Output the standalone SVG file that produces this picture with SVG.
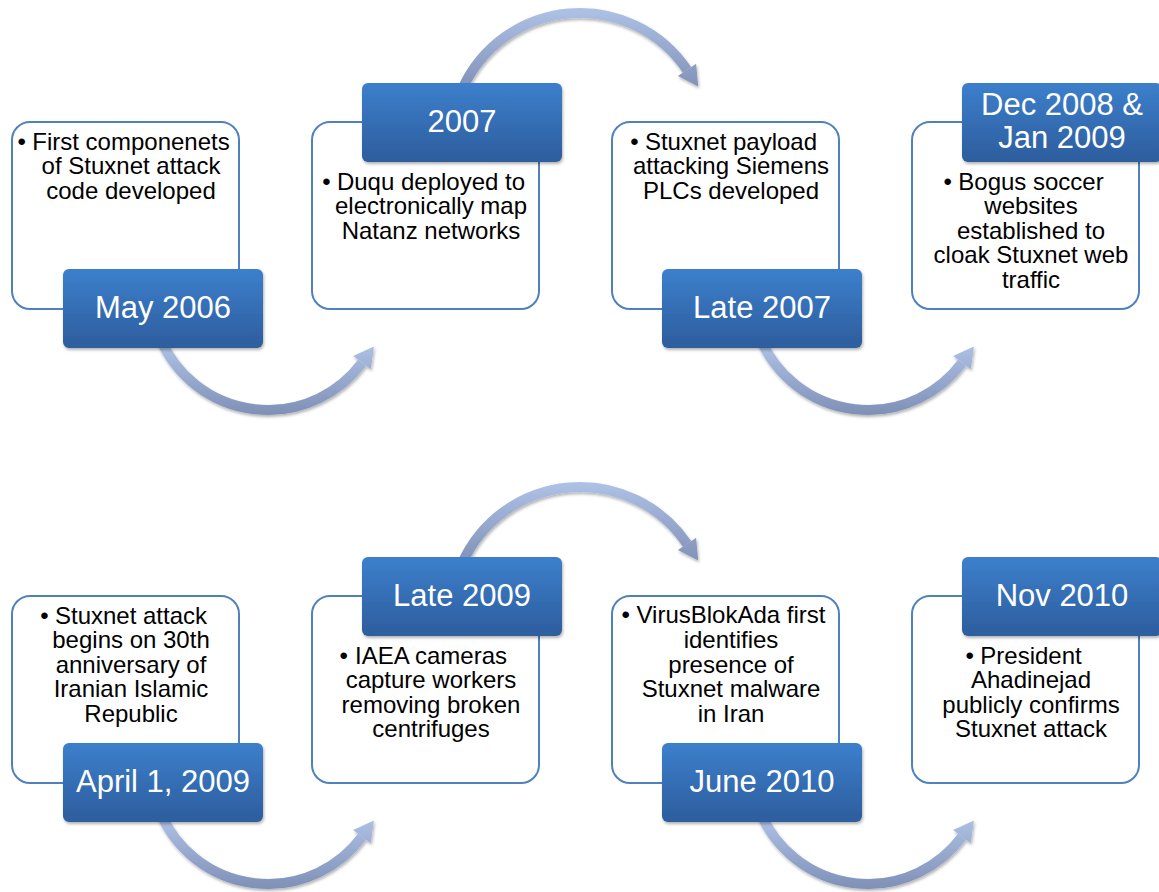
<svg xmlns="http://www.w3.org/2000/svg" xmlns:xlink="http://www.w3.org/1999/xlink" width="1159" height="892" viewBox="0 0 1159 892">
<style>
.box{fill:#ffffff;stroke:#4F81BD;stroke-width:2}
.lab{fill:url(#labG);filter:url(#sh)}
.body{font-family:"Liberation Sans",Arial,sans-serif;font-size:24px;fill:#000;text-anchor:middle}
.lt{font-family:"Liberation Sans",Arial,sans-serif;font-size:31px;fill:#fff;text-anchor:middle}
</style>
<defs>
<linearGradient id="labG" x1="0" y1="0" x2="0" y2="1">
<stop offset="0" stop-color="#3C7FCC"/>
<stop offset="1" stop-color="#2D5D9D"/>
</linearGradient>
<linearGradient id="botG" gradientUnits="userSpaceOnUse" x1="0" y1="340" x2="0" y2="415">
<stop offset="0" stop-color="#B0C4E8"/>
<stop offset="1" stop-color="#7F90B6"/>
</linearGradient>
<linearGradient id="topG" gradientUnits="userSpaceOnUse" x1="0" y1="8" x2="0" y2="90">
<stop offset="0" stop-color="#AEC2E6"/>
<stop offset="1" stop-color="#8090B6"/>
</linearGradient>
<filter id="sh" x="-10%" y="-10%" width="130%" height="140%">
<feDropShadow dx="1" dy="2" stdDeviation="1.6" flood-color="#000" flood-opacity="0.3"/>
</filter>
<g id="arrB" filter="url(#sh)">
<path d="M160.9,340 A117,117 0 0 0 362,362.7" fill="none" stroke="url(#botG)" stroke-width="10"/>
<polygon points="373.9,346.6 370.8,369.3 353.2,356.1" fill="url(#botG)"/>
</g>
<g id="arrT" filter="url(#sh)">
<path d="M461.9,90 A129,129 0 0 1 687,69.9" fill="none" stroke="url(#topG)" stroke-width="10"/>
<polygon points="698.2,86.5 696.1,63.7 677.9,76" fill="url(#topG)"/>
</g>
</defs>
<rect width="1159" height="892" fill="#ffffff"/>
<g id="connectors">
<use href="#arrB"/>
<use href="#arrB" transform="translate(600,0)"/>
<use href="#arrB" transform="translate(0,474)"/>
<use href="#arrB" transform="translate(600,474)"/>
<use href="#arrT"/>
<use href="#arrT" transform="translate(0,474)"/>
</g>
<g id="node1">
<rect class="box" x="12" y="122" width="227" height="187" rx="18"/>
<text class="body" x="21.8" y="149.5">•</text>
<text class="body" y="149.5"><tspan x="131">First componenets</tspan><tspan x="131" dy="24.5">of Stuxnet attack</tspan><tspan x="131" dy="24.5">code developed</tspan></text>
<rect class="lab" x="63" y="269" width="200" height="79" rx="6"/>
<text class="lt" x="163" y="318">May 2006</text>
</g>
<g id="node2">
<rect class="box" x="312" y="122" width="227" height="187" rx="18"/>
<text class="body" x="326.4" y="189.5">•</text>
<text class="body" y="189.5"><tspan x="431">Duqu deployed to</tspan><tspan x="431" dy="24.5">electronically map</tspan><tspan x="431" dy="24.5">Natanz networks</tspan></text>
<rect class="lab" x="362" y="83" width="200" height="79" rx="6"/>
<text class="lt" x="462" y="132">2007</text>
</g>
<g id="node3">
<rect class="box" x="612" y="122" width="227" height="187" rx="18"/>
<text class="body" x="634.5" y="149.5">•</text>
<text class="body" y="149.5"><tspan x="731">Stuxnet payload</tspan><tspan x="731" dy="24.5">attacking Siemens</tspan><tspan x="731" dy="24.5">PLCs developed</tspan></text>
<rect class="lab" x="662" y="269" width="200" height="79" rx="6"/>
<text class="lt" x="762" y="318">Late 2007</text>
</g>
<g id="node4">
<rect class="box" x="912" y="122" width="227" height="187" rx="18"/>
<text class="body" x="947.8" y="189.5">•</text>
<text class="body" y="189.5"><tspan x="1031">Bogus soccer</tspan><tspan x="1031" dy="24.5">websites</tspan><tspan x="1031" dy="24.5">established to</tspan><tspan x="1031" dy="24.5">cloak Stuxnet web</tspan><tspan x="1031" dy="24.5">traffic</tspan></text>
<rect class="lab" x="962" y="83" width="200" height="79" rx="6"/>
<text class="lt" y="115"><tspan x="1062">Dec 2008 &amp;</tspan><tspan x="1062" dy="32.5">Jan 2009</tspan></text>
</g>
<g id="node5">
<rect class="box" x="12" y="596" width="227" height="187" rx="18"/>
<text class="body" x="44.5" y="623.5">•</text>
<text class="body" y="623.5"><tspan x="131">Stuxnet attack</tspan><tspan x="131" dy="24.5">begins on 30th</tspan><tspan x="131" dy="24.5">anniversary of</tspan><tspan x="131" dy="24.5">Iranian Islamic</tspan><tspan x="131" dy="24.5">Republic</tspan></text>
<rect class="lab" x="63" y="743" width="200" height="79" rx="6"/>
<text class="lt" x="163" y="792">April 1, 2009</text>
</g>
<g id="node6">
<rect class="box" x="312" y="596" width="227" height="187" rx="18"/>
<text class="body" x="343.8" y="663.5">•</text>
<text class="body" y="663.5"><tspan x="431">IAEA cameras</tspan><tspan x="431" dy="24.5">capture workers</tspan><tspan x="431" dy="24.5">removing broken</tspan><tspan x="431" dy="24.5">centrifuges</tspan></text>
<rect class="lab" x="362" y="557" width="200" height="79" rx="6"/>
<text class="lt" x="462" y="606">Late 2009</text>
</g>
<g id="node7">
<rect class="box" x="612" y="596" width="227" height="187" rx="18"/>
<text class="body" x="625.8" y="623">•</text>
<text class="body" y="623"><tspan x="731">VirusBlokAda first</tspan><tspan x="731" dy="24.75">identifies</tspan><tspan x="731" dy="24.75">presence of</tspan><tspan x="731" dy="24.75">Stuxnet malware</tspan><tspan x="731" dy="24.75">in Iran</tspan></text>
<rect class="lab" x="662" y="743" width="200" height="79" rx="6"/>
<text class="lt" x="762" y="792">June 2010</text>
</g>
<g id="node8">
<rect class="box" x="912" y="596" width="227" height="187" rx="18"/>
<text class="body" x="969.8" y="663.5">•</text>
<text class="body" y="663.5"><tspan x="1031">President</tspan><tspan x="1031" dy="24.5">Ahadinejad</tspan><tspan x="1031" dy="24.5">publicly confirms</tspan><tspan x="1031" dy="24.5">Stuxnet attack</tspan></text>
<rect class="lab" x="962" y="557" width="200" height="79" rx="6"/>
<text class="lt" x="1062" y="606">Nov 2010</text>
</g>
</svg>
